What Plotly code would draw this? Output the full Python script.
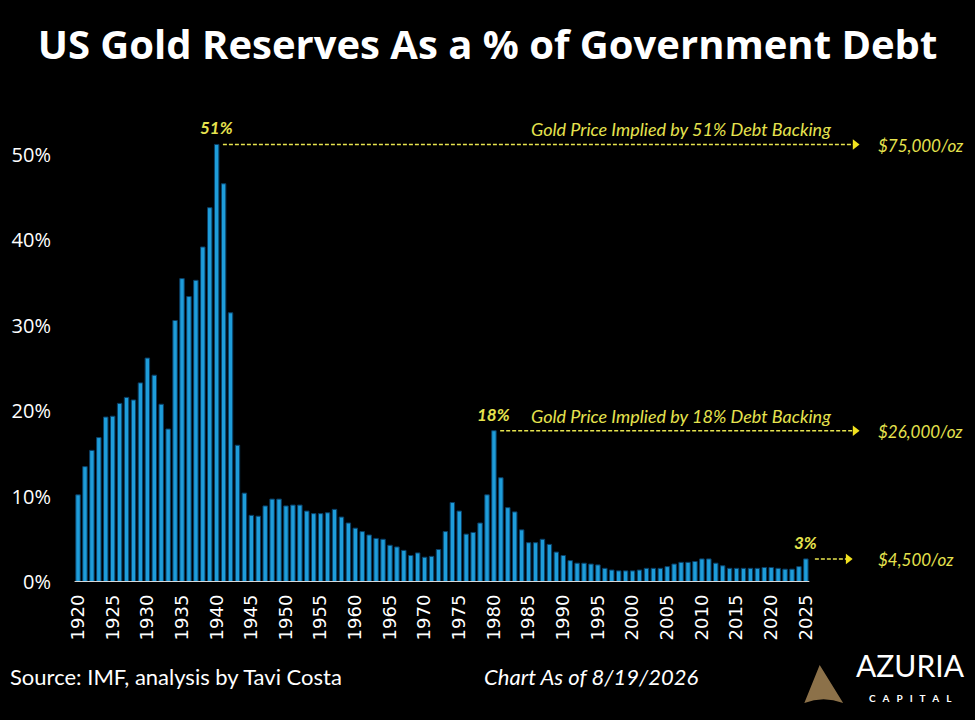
import plotly.graph_objects as go

# Datos: reservas de oro de EE.UU. como % de la deuda pública
years = list(range(1920, 2026))
gold_pct = [
    10.2, 13.5, 15.4, 16.9, 19.3, 19.4, 20.9, 21.6, 21.3, 23.3,   # 1920-1929
    26.2, 24.2, 20.8, 17.9, 30.6, 35.5, 33.4, 35.3, 39.2, 43.8,   # 1930-1939
    51.2, 46.6, 31.5, 16.0, 10.4, 7.8, 7.7, 8.9, 9.7, 9.7,        # 1940-1949
    8.9, 9.0, 9.0, 8.3, 8.0, 8.0, 8.1, 8.5, 7.6, 6.9,             # 1950-1959
    6.3, 5.9, 5.5, 5.1, 5.0, 4.3, 4.1, 3.7, 3.1, 3.4,             # 1960-1969
    2.9, 3.0, 3.8, 5.9, 9.3, 8.3, 5.6, 5.8, 6.9, 10.2,            # 1970-1979
    17.7, 12.2, 8.7, 8.2, 6.1, 4.6, 4.6, 5.0, 4.4, 3.5,           # 1980-1989
    3.1, 2.5, 2.2, 2.2, 2.1, 2.0, 1.6, 1.4, 1.3, 1.3,             # 1990-1999
    1.3, 1.4, 1.6, 1.6, 1.6, 1.8, 2.1, 2.3, 2.3, 2.4,             # 2000-2009
    2.7, 2.7, 2.2, 1.9, 1.6, 1.6, 1.6, 1.6, 1.6, 1.7,             # 2010-2019
    1.7, 1.6, 1.5, 1.5, 1.8, 2.7,                                 # 2020-2025
]
tick_years = list(range(1920, 2026, 5))
y_ticks = [0, 10, 20, 30, 40, 50]
y_ticktext = [f"{v}%" for v in y_ticks]

# Marcas destacadas
peak_years = [1940, 1980, 2025]
peak_labels = ["51%", "18%", "3%"]
implied_texts = ["Gold Price Implied by 51% Debt Backing",
                 "Gold Price Implied by 18% Debt Backing", ""]
implied_prices = ["$75,000/oz", "$26,000/oz", "$4,500/oz"]

YELLOW = "#E6E34E"
BLUE = "#1E9DDA"
FONT = "Lato"

fig = go.Figure()
fig.add_trace(go.Bar(
    x=years, y=gold_pct,
    marker=dict(color=BLUE, line=dict(color="#0A3F66", width=1)),
    hoverinfo="x+y",
))

arrow_end = 2032.1
for yr, lab, txt, price in zip(peak_years, peak_labels, implied_texts, implied_prices):
    val = gold_pct[years.index(yr)]
    x0 = yr + 0.9 if yr != 2025 else yr + 1.3
    x1 = arrow_end if yr != 2025 else 2031.1
    fig.add_trace(go.Scatter(
        x=[x0, x1], y=[val, val], mode="lines",
        line=dict(color=YELLOW, width=1.5, dash="4px,2px"), hoverinfo="skip",
    ))
    fig.add_trace(go.Scatter(
        x=[x1], y=[val], mode="markers",
        marker=dict(symbol="triangle-right", size=9, color="#F2E21E"), hoverinfo="skip",
    ))
    fig.add_annotation(x=yr, y=val, text="<b><i>" + lab + "</i></b>", showarrow=False,
                       yanchor="bottom", yshift=4, font=dict(family=FONT, size=17, color=YELLOW))
    if txt:
        fig.add_annotation(x=2007, y=val, text="<i>" + txt + "</i>", showarrow=False,
                           yanchor="bottom", yshift=2, font=dict(family=FONT, size=18, color=YELLOW))
    fig.add_annotation(x=2035.1, y=val, text="<i>" + price + "</i>", showarrow=False,
                       xanchor="left", yshift=-1, font=dict(family=FONT, size=17, color=YELLOW))

# Pie de página
fig.add_annotation(xref="paper", yref="paper", x=-0.071, y=-0.228, xanchor="left",
                   text="Source: IMF, analysis by Tavi Costa", showarrow=False,
                   font=dict(family=FONT, size=22, color="white"))
fig.add_annotation(xref="paper", yref="paper", x=0.575, y=-0.228, xanchor="center",
                   text="<i>Chart As of 8/19/2026</i>", showarrow=False,
                   font=dict(family=FONT, size=22, color="white"))
fig.add_annotation(xref="paper", yref="paper", x=0.929, y=-0.214, xanchor="center",
                   text="AZURIA", showarrow=False,
                   font=dict(family=FONT, size=30, color="white"))
fig.add_annotation(xref="paper", yref="paper", x=0.929, y=-0.257, xanchor="center",
                   text="<b>C   A   P   I   T   A   L</b>", showarrow=False,
                   font=dict(family=FONT, size=10, color="white"))
fig.add_shape(type="path", xref="paper", yref="paper",
              path="M 0.828 -0.172 L 0.811 -0.251 Q 0.832 -0.236 0.854 -0.251 Z",
              fillcolor="#8C7149", line=dict(width=0))

fig.update_layout(
    width=975, height=720,
    paper_bgcolor="black", plot_bgcolor="black",
    margin=dict(l=72, r=0, t=100, b=138),
    showlegend=False, bargap=0.36,
    title=dict(text="<b>US Gold Reserves As a % of Government Debt</b>",
               x=0.5, xanchor="center", y=0.9375, yanchor="middle",
               font=dict(family="Open Sans", size=40, color="white")),
)
fig.update_xaxes(
    range=[1919.13, 2049.4], tickvals=tick_years, tickangle=-90,
    tickfont=dict(family="DejaVu Sans", size=18, color="white"),
    showgrid=False, zeroline=False, showline=False, ticks="",
    ticklabelstandoff=8,
)
fig.update_yaxes(
    range=[0, 56.4], tickvals=y_ticks, ticktext=y_ticktext,
    tickfont=dict(family="Open Sans", size=20, color="white"),
    showgrid=False, zeroline=False, showline=False, ticks="",
    ticklabelstandoff=20,
)
# línea base bajo las barras
fig.add_shape(type="line", xref="x", yref="y", x0=1919.5, x1=2025.5, y0=0, y1=0,
              line=dict(color="#d8d8d8", width=2))

fig.write_html("out.html", config={"displayModeBar": False},
               post_script="document.body.style.margin='0';")
